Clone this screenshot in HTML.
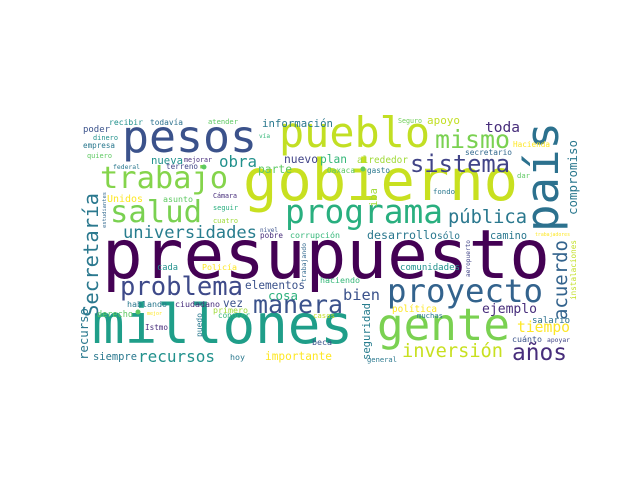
<!DOCTYPE html>
<html><head><meta charset="utf-8"><style>
html,body{margin:0;padding:0;background:#fff;}
svg{display:block;}
text{font-family:"DejaVu Sans Mono","Liberation Mono",monospace;}
</style></head><body>
<svg id="cloud" width="640" height="480" viewBox="0 0 640 480">
<rect width="640" height="480" fill="#fff"/>
<g id="words"></g>
</svg>
<script>
const words = [
"presupuesto","gobierno","millones","pesos","pueblo","país","gente","proyecto","trabajo","salud",
"programa","mismo","sistema","pública","toda","apoyo","Seguro","alrededor","plan","Oaxaca",
"gasto","secretario","Hacienda","dar","fondo","iba","desarrollo","sólo","camino","trabajadores",
"compromiso","información","nuevo","obra","parte","nueva","mejorar","terreno","federal","quiero",
"empresa","dinero","poder","recibir","todavía","atender","vía","Unidos","asunto","Cámara",
"seguir","cuatro","nivel","pobre","corrupción","estudiantes","universidades","Secretaría","problema","elementos",
"cosa","manera","bien","haciendo","comunidades","aeropuerto","acuerdo","instalaciones","cada","Policía",
"trabajando","hablando","ciudadano","vez","derecho","mejor","primero","conocer","casos","muchas",
"política","ejemplo","tiempo","salario","cuánto","apoyar","seguridad","puedo","Istmo","beca",
"siempre","recursos","hoy","importante","general","inversión","años","recurso"];
const posX = [
102,243,92,122,279,558,377,387,100,110,
285,435,410,448,485,427,398,357,320,327,
367,465,513,517,433,377,367,437,490,535,
577,262,284,219,258,151,184,166,113,87,
83,93,83,109,150,208,259,107,163,213,
213,213,260,260,290,106,123,98,120,245,
268,253,343,320,400,470,567,576,157,202,
306,127,175,223,97,147,213,218,313,417,
392,482,517,532,512,547,370,202,145,312,
93,138,230,265,367,402,512,88];
const posY = [
278,200,343,152,147,232,340,302,188,222,
223,148,172,223,132,124,123,163,163,173,
173,155,147,178,194,207,239,239,239,236,
215,127,163,167,173,164,162,169,169,158,
148,140,132,125,125,124,138,202,202,198,
210,223,232,238,238,228,238,317,295,289,
300,313,300,283,270,277,320,300,270,270,
282,307,307,307,317,315,313,318,318,318,
312,313,332,323,342,342,360,337,330,345,
360,362,360,360,362,357,360,360];
const sizes = [
448,275,261,135,151,110,133,156,128,92,
158,75,100,79,35,33,24,51,27,28,
23,47,37,13,22,19,70,23,37,35,
75,71,34,38,34,32,28,32,27,25,
32,25,27,34,33,30,11,36,30,24,
25,25,18,23,50,36,134,124,123,60,
30,90,37,40,60,37,80,60,21,35,
39,40,45,20,36,15,35,32,22,26,
45,55,53,38,30,23,57,24,23,20,
44,77,15,67,30,101,55,52];
const colors = [
"#440154","#c8e020","#1f9e89","#3b528b","#c2df23","#2c718e","#7ad151","#33638d","#84d44b","#7ad151",
"#29af7f","#7ad151","#414487","#2a788e","#472d7b","#c2df23","#6ece58","#a0da39","#35b779","#5ec962",
"#2a788e","#31688e","#fde725","#5ec962","#2a788e","#a0da39","#2a788e","#2a788e","#2a788e","#fde725",
"#2a788e","#2a788e","#414487","#21918c","#5ec962","#21918c","#472d7b","#414487","#2a788e","#5ec962",
"#2a788e","#21918c","#3b528b","#21918c","#2c718e","#5ec962","#35b779","#fde725","#5ec962","#472d7b",
"#29af7f","#a0da39","#3b528b","#472d7b","#35b779","#31688e","#287d8e","#2a788e","#3e4a89","#3b528b",
"#2db27d","#3b528b","#3b528b","#35b779","#21918c","#414487","#33638d","#c2df23","#21918c","#fde725",
"#31688e","#2a788e","#472d7b","#3b528b","#5ec962","#fde725","#a0da39","#35b779","#c2df23","#2a788e",
"#fde725","#472d7b","#fde725","#2c718e","#3b528b","#414487","#287d8e","#2a788e","#472d7b","#3b528b",
"#2a788e","#21918c","#2a788e","#fde725","#2a788e","#c8e020","#472d7b","#2a788e"];
const vertical = ["país","compromiso","iba","estudiantes","Secretaría","aeropuerto","acuerdo","instalaciones","trabajando","seguridad","puedo","recurso"];

const g = document.getElementById('words');
const NS = 'http://www.w3.org/2000/svg';
for (let i = 0; i < words.length; i++) {
  const w = words[i];
  const n = Array.from(w).length;
  const len = sizes[i];
  const fs = len / (n * 0.602);
  const t = document.createElementNS(NS, 'text');
  
  
  t.setAttribute('x', posX[i]);
  t.setAttribute('y', posY[i]);
  t.setAttribute('font-size', fs.toFixed(2));
  t.setAttribute('fill', colors[i]);
  t.setAttribute('textLength', len);
  t.setAttribute('lengthAdjust', 'spacingAndGlyphs');
  if (vertical.indexOf(w) >= 0) {
    t.setAttribute('transform', 'rotate(-90 ' + posX[i] + ' ' + posY[i] + ')');
  }
  t.textContent = w;
  g.appendChild(t);
}
const dots = [[204,167],[363,169],[138,312]];
for (const d of dots) {
  const c = document.createElementNS(NS, 'circle');
  
  
  c.setAttribute('cx', d[0]); c.setAttribute('cy', d[1]); c.setAttribute('r', 2.5);
  c.setAttribute('fill', '#5ec962');
  g.appendChild(c);
}
</script>
</body></html>
